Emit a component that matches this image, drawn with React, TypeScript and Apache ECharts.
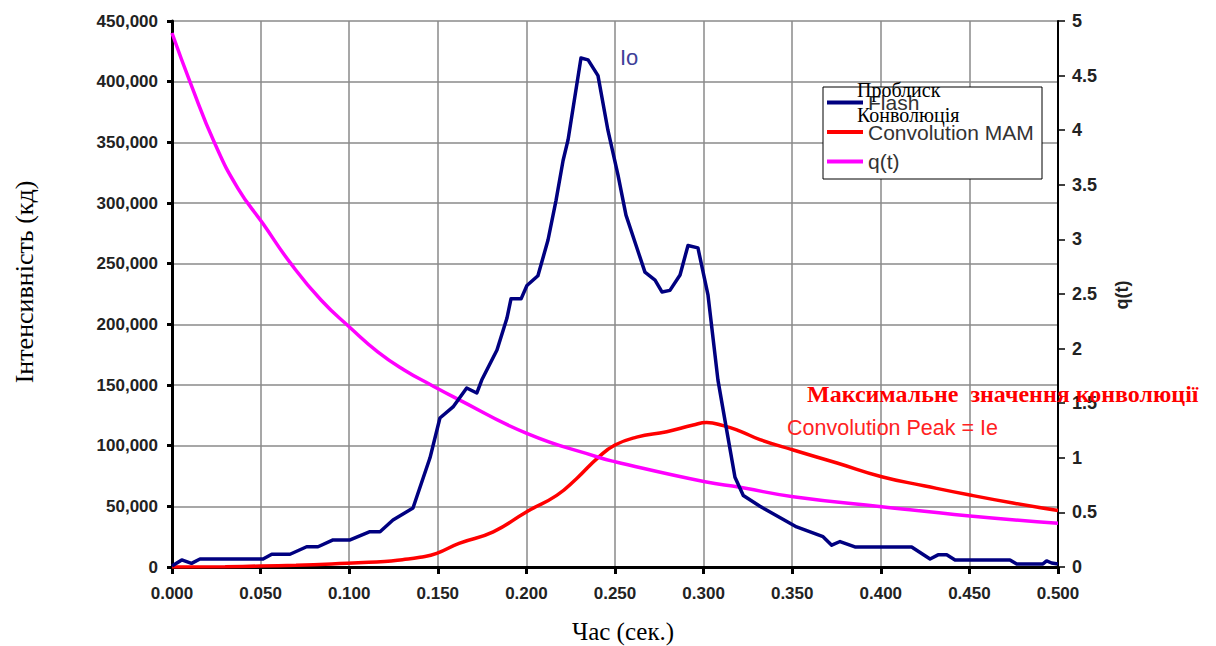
import React, { useEffect, useRef } from "react";
import * as echarts from "echarts";

// Flash (left axis, кд)
const flashTime = [0, 0.0055, 0.011, 0.0158, 0.0514, 0.0563, 0.0666, 0.076, 0.0824, 0.0909, 0.1005, 0.1117, 0.1174, 0.1247, 0.136, 0.1456, 0.1512, 0.1586, 0.1663, 0.172, 0.1748, 0.1834, 0.189, 0.1913, 0.197, 0.2003, 0.2065, 0.2122, 0.2167, 0.2207, 0.2235, 0.2308, 0.2348, 0.2404, 0.246, 0.2517, 0.2562, 0.2619, 0.2669, 0.2726, 0.2765, 0.281, 0.2867, 0.2912, 0.2968, 0.3025, 0.3081, 0.313, 0.3177, 0.3224, 0.3318, 0.3385, 0.3525, 0.3674, 0.3723, 0.377, 0.3854, 0.4174, 0.4278, 0.4323, 0.4372, 0.4419, 0.4729, 0.4767, 0.4915, 0.4936, 0.4964, 0.5];
const flashValue = [800, 5800, 3000, 6600, 6600, 10500, 10500, 16700, 16700, 22300, 22300, 29100, 29100, 38700, 48600, 90000, 122800, 131900, 147500, 143400, 154100, 178800, 205000, 221000, 221000, 232000, 240000, 269500, 302000, 335000, 352000, 419500, 418000, 405000, 360000, 323000, 290000, 265000, 243000, 236500, 226700, 228000, 240700, 265000, 263000, 224000, 154000, 113000, 74000, 59000, 50000, 44500, 33000, 25000, 18000, 21000, 16500, 16500, 6600, 10000, 10000, 5800, 5800, 2500, 2500, 5000, 3300, 2500];

// Convolution MAM (left axis)
const convTime = [0, 0.03, 0.05, 0.07, 0.09, 0.105, 0.12, 0.13, 0.14, 0.1494, 0.162, 0.1813, 0.2002, 0.2171, 0.2284, 0.2406, 0.25, 0.2622, 0.2792, 0.2942, 0.3017, 0.3111, 0.3205, 0.3318, 0.3506, 0.3753, 0.4005, 0.425, 0.4503, 0.4746, 0.5];
const convValue = [0, 300, 800, 1500, 2500, 3500, 4500, 6000, 8000, 11300, 19500, 29000, 45600, 59000, 73000, 90400, 100500, 107000, 111500, 117000, 119000, 116500, 112000, 105000, 96400, 85700, 74400, 66800, 59300, 52700, 46500];

// q(t) (right axis)
const qTime = [0, 0.0107, 0.0241, 0.0371, 0.0512, 0.067, 0.0841, 0.1009, 0.1161, 0.131, 0.1462, 0.1591, 0.2002, 0.2406, 0.25, 0.3008, 0.3205, 0.3506, 0.4005, 0.4503, 0.5];
const qValue = [4.89, 4.42, 3.88, 3.47, 3.147, 2.78, 2.445, 2.186, 1.97, 1.804, 1.667, 1.556, 1.224, 1.005, 0.964, 0.781, 0.73, 0.644, 0.552, 0.467, 0.40];

const seriesNames = ["Flash", "Convolution MAM", "q(t)"];
const leftTitle = "Інтенсивність (кд)";
const bottomTitle = "Час (сек.)";
const rightTitle = "q(t)";

const SANS = "Liberation Sans";
const SERIF = "Liberation Serif";

export default function App() {
  const ref = useRef<HTMLDivElement>(null);
  useEffect(() => {
    document.body.style.margin = "0";
    const chart = echarts.init(ref.current!, null, { renderer: "svg" });
    const labelStyle = { fontSize: 17, fontWeight: "bold", color: "#222", fontFamily: SANS };
    chart.setOption({
      animation: false,
      backgroundColor: "#fff",
      grid: { left: 172, right: 158, top: 21, bottom: 79, containLabel: false },
      xAxis: {
        type: "value",
        min: 0,
        max: 0.5,
        interval: 0.05,
        axisLine: { show: true, onZero: false, lineStyle: { color: "#000", width: 3 } },
        axisTick: { show: true, length: 7, lineStyle: { color: "#000", width: 3 } },
        axisLabel: { ...labelStyle, margin: 18, formatter: (v: number) => v.toFixed(3) },
        splitLine: { show: true, lineStyle: { color: "#8a8a8a", width: 1.5 } },
      },
      yAxis: [
        {
          type: "value",
          position: "left",
          min: 0,
          max: 450000,
          interval: 50000,
          axisLine: { show: true, lineStyle: { color: "#000", width: 3 } },
          axisTick: { show: true, length: 5, lineStyle: { color: "#000", width: 3 } },
          axisLabel: { ...labelStyle, margin: 14, formatter: (v: number) => v.toLocaleString("en-US") },
          splitLine: { show: true, lineStyle: { color: "#8a8a8a", width: 1.5 } },
        },
        {
          type: "value",
          position: "right",
          min: 0,
          max: 5,
          interval: 0.5,
          axisLine: { show: true, lineStyle: { color: "#000", width: 2 } },
          axisTick: { show: true, length: 7, lineStyle: { color: "#000", width: 1.5 } },
          axisLabel: { ...labelStyle, fontSize: 18, margin: 14, formatter: (v: number) => String(v) },
          splitLine: { show: false },
        },
      ],
      legend: {
        orient: "vertical",
        left: 823,
        top: 87,
        padding: [5, 4, 5, 4],
        itemGap: 8.5,
        itemWidth: 36,
        itemHeight: 4,
        icon: "rect",
        selectedMode: false,
        data: seriesNames,
        textStyle: { fontSize: 21, color: "#333", fontFamily: SANS },
      },
      series: [
        {
          name: seriesNames[0],
          type: "line",
          yAxisIndex: 0,
          data: flashTime.map((t, i) => [t, flashValue[i]]),
          symbol: "none",
          smooth: false,
          lineStyle: { color: "#000080", width: 3.5, join: "round" },
          itemStyle: { color: "#000080" },
          z: 4,
        },
        {
          name: seriesNames[1],
          type: "line",
          yAxisIndex: 0,
          data: convTime.map((t, i) => [t, convValue[i]]),
          symbol: "none",
          smooth: 0.5,
          lineStyle: { color: "#ff0000", width: 3.5 },
          itemStyle: { color: "#ff0000" },
          z: 3,
        },
        {
          name: seriesNames[2],
          type: "line",
          yAxisIndex: 1,
          data: qTime.map((t, i) => [t, qValue[i]]),
          symbol: "none",
          smooth: 0.5,
          lineStyle: { color: "#ff00ff", width: 3.5 },
          itemStyle: { color: "#ff00ff" },
          z: 3,
        },
      ],
      graphic: [
        {
          type: "rect",
          z: 3,
          shape: { x: 823, y: 87, width: 219, height: 92 },
          style: { fill: "#fff", stroke: "#000", lineWidth: 1 },
        },
        {
          type: "text", z: 10, x: 857, y: 90,
          style: { text: "Проблиск", fill: "#000", font: `20px "${SERIF}"`, align: "left", verticalAlign: "middle" },
        },
        {
          type: "text", z: 10, x: 857, y: 115,
          style: { text: "Конволюція", fill: "#000", font: `20px "${SERIF}"`, align: "left", verticalAlign: "middle" },
        },
        {
          type: "text", z: 10, x: 620, y: 57,
          style: { text: "Io", fill: "#3f3f99", font: `22px "${SANS}"`, align: "left", verticalAlign: "middle" },
        },
        {
          type: "text", z: 10, x: 807, y: 394,
          style: { text: "Максимальне  значення конволюції", fill: "#ff0000", font: `bold 24px "${SERIF}"`, align: "left", verticalAlign: "middle" },
        },
        {
          type: "text", z: 10, x: 787, y: 428,
          style: { text: "Convolution Peak = Ie", fill: "#ff2222", font: `21.5px "${SANS}"`, align: "left", verticalAlign: "middle" },
        },
        {
          type: "text", z: 10, x: 24, y: 282, rotation: Math.PI / 2,
          style: { text: leftTitle, fill: "#000", font: `26px "${SERIF}"`, align: "center", verticalAlign: "middle" },
        },
        {
          type: "text", z: 10, x: 623, y: 631,
          style: { text: bottomTitle, fill: "#000", font: `25px "${SERIF}"`, align: "center", verticalAlign: "middle" },
        },
        {
          type: "text", z: 10, x: 1122, y: 295, rotation: Math.PI / 2,
          style: { text: rightTitle, fill: "#222", font: `bold 18px "${SANS}"`, align: "center", verticalAlign: "middle" },
        },
      ],
    });
    return () => chart.dispose();
  }, []);
  return <div ref={ref} style={{ width: 1216, height: 646 }} />;
}
